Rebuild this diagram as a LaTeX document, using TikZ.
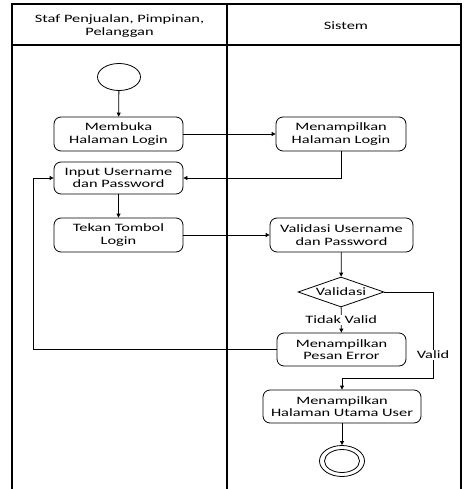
\documentclass[tikz,border=0pt]{standalone}
\usepackage{fontspec}
\setmainfont{Carlito}[FakeStretch=1.45]
\usetikzlibrary{arrows.meta,shapes.geometric}
\begin{document}
\begin{tikzpicture}[x=1pt,y=-1pt,
  every node/.style={font=\fontsize{11.3}{12.6}\selectfont, align=center, inner sep=0pt},
  act/.style={draw, rounded corners=7pt, line width=0.8pt},
  frameline/.style={line width=1.3pt},
  flow/.style={line width=0.8pt, -{Triangle[length=4pt,width=4pt]}},
  lbl/.style={fill=white, inner sep=1pt}]
\useasboundingbox (0,0) rectangle (464,489);

% swimlane frame
\draw[frameline] (12,520) -- (12,4) -- (461,4) -- (461,520);
\draw[frameline] (227,4) -- (227,520);
\draw[frameline] (12,45) -- (461,45);
\node (laneA) at (119.5,26) {Staf Penjualan, Pimpinan,\\Pelanggan};
\node (laneB) at (346,26) {Sistem};

% activities
\node[draw, ellipse, minimum width=43pt, minimum height=27pt, line width=0.8pt] (start) at (119,77) {};
\node[act, minimum width=129pt, minimum height=34pt] (mb) at (118.5,134) {Membuka\\Halaman Login};
\node[act, minimum width=130pt, minimum height=34pt] (ml) at (341,134) {Menampilkan\\Halaman Login};
\node[act, minimum width=129pt, minimum height=32pt] (iu) at (118.5,178) {Input Username\\dan Password};
\node[act, minimum width=129pt, minimum height=34pt] (tt) at (118.5,235) {Tekan Tombol\\Login};
\node[act, minimum width=143pt, minimum height=34pt] (vu) at (341.5,235) {Validasi Username\\dan Password};
\node[draw, diamond, aspect=2.87, minimum width=86pt, minimum height=30pt, line width=0.8pt] (dv) at (341,292) {};
\node (dvt) at (341,292) {Validasi};
\node[act, minimum width=129pt, minimum height=33pt] (pe) at (341.5,349.5) {Menampilkan\\Pesan Error};
\node[act, minimum width=158pt, minimum height=33pt] (hu) at (342,406.5) {Menampilkan\\Halaman Utama User};
\node[draw, ellipse, minimum width=45pt, minimum height=31pt, line width=0.8pt] (end) at (342,461) {};
\node[draw, ellipse, minimum width=35pt, minimum height=23pt, line width=0.8pt] (endin) at (342,461) {};

% helper coordinates for bends
\coordinate (vr) at (433,292);
\coordinate (vb) at (433,378);
\coordinate (vj) at (342,378);
\coordinate (el) at (33,349.5);
\coordinate (eu) at (33,178);

% flows
\draw[flow] (start) -- (mb);
\draw[flow] (mb) -- (ml);
\draw[flow] (ml.south) |- (iu.east);
\draw[flow] (iu) -- (tt);
\draw[flow] (tt) -- (vu);
\draw[flow] (vu) -- (dv);
\draw[flow] (dv) -- node[lbl] (tv) {Tidak Valid} (pe);
\draw[flow] (dv.east) -- (vr) -- node[lbl, pos=0.73] (vl) {Valid} (vb) -- (vj) -- (hu.north);
\draw[flow] (pe.west) -- (el) -- (eu) -- (iu.west);
\draw[flow] (hu) -- (end);
\end{tikzpicture}
\end{document}
